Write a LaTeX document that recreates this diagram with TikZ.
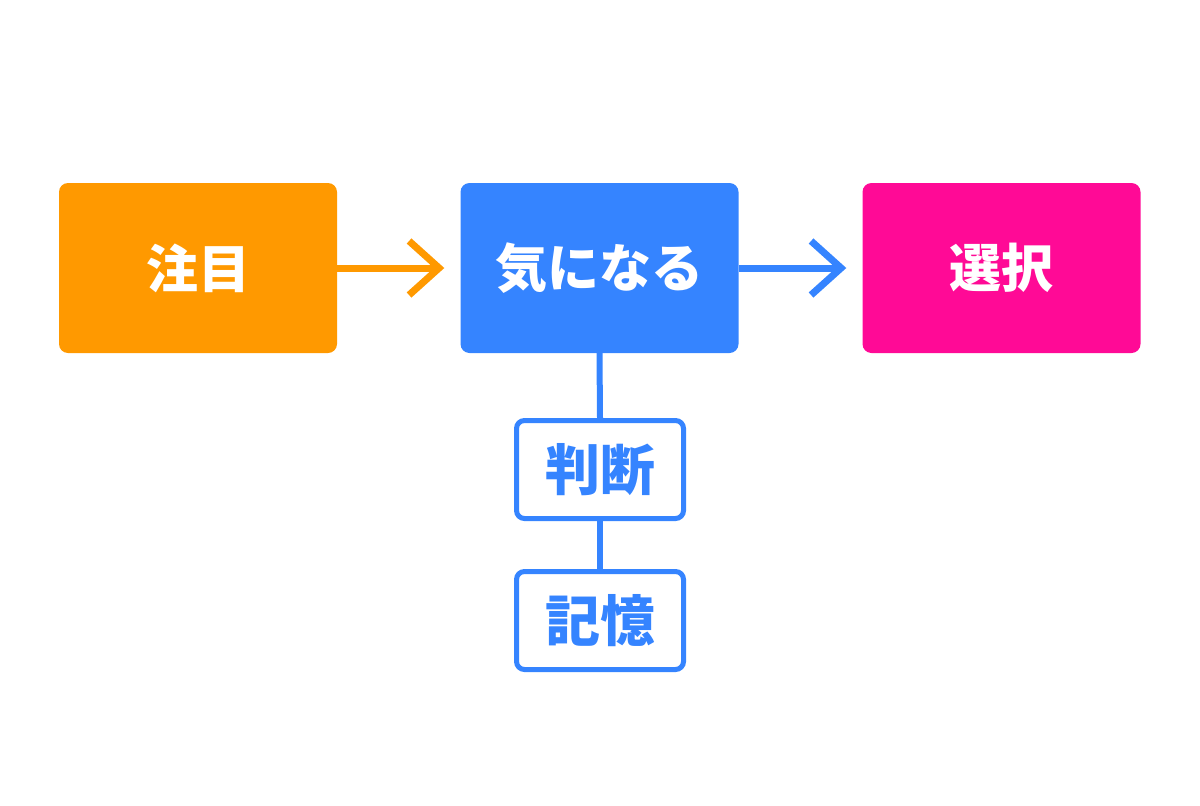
\documentclass[tikz,border=0pt]{standalone}
\usepackage{fontspec}
\newfontfamily\jp{Noto Sans CJK JP}
\usetikzlibrary{arrows.meta}
\definecolor{cOrange}{HTML}{FF9900}
\definecolor{cBlue}{HTML}{3584FF}
\definecolor{cPink}{HTML}{FF0A96}
\tikzset{
  mainbox/.style={rounded corners=9pt, minimum width=278pt, minimum height=170pt, inner sep=0pt, text=white, font=\jp\bfseries\fontsize{52pt}{60pt}\selectfont},
  subbox/.style={draw=cBlue, line width=5pt, fill=white, rounded corners=8pt, minimum width=167pt, minimum height=98pt, inner sep=0pt, text=cBlue, font=\jp\bfseries\fontsize{55pt}{62pt}\selectfont},
  flow/.style={line width=7pt, -{Straight Barb[length=30pt,width=54pt]}, shorten >=16pt},
  link/.style={draw=cBlue, line width=6pt}
}
\begin{document}
\begin{tikzpicture}[x=1pt,y=-1pt]
\useasboundingbox (0,0) rectangle (1200,806);
\node[mainbox, fill=cOrange] (a) at (198,268) {注目};
\node[mainbox, fill=cBlue] (b) at (599.5,268) {気になる};
\node[mainbox, fill=cPink] (c) at (1001.5,268) {選択};
\node[subbox] (d) at (600,469.5) {判断};
\node[subbox] (e) at (600,620.5) {記憶};
\draw[flow, cOrange] (a.east) -- (b.west);
\draw[flow, cBlue] (b.east) -- (c.west);
\draw[link] (b.south) -- (d.north);
\draw[link] (d.south) -- (e.north);
\end{tikzpicture}
\end{document}
